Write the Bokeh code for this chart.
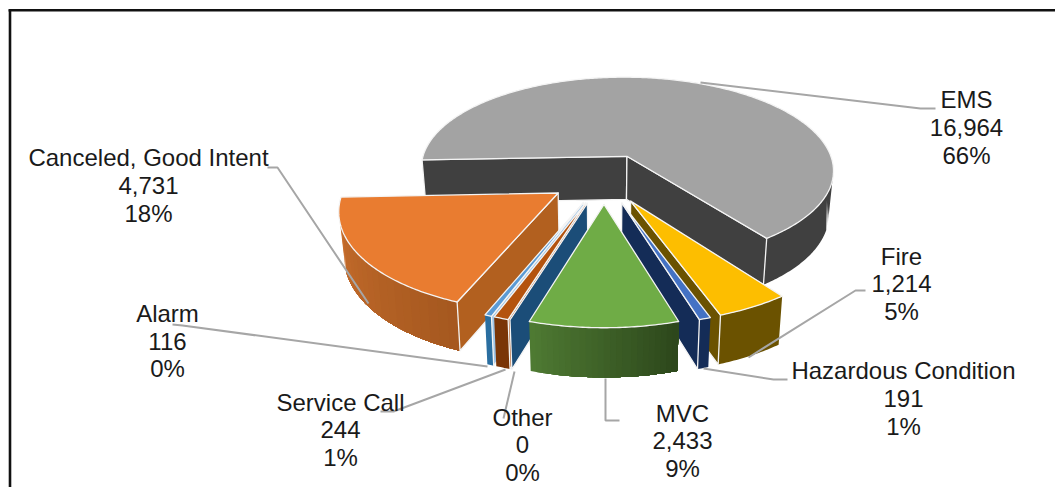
import math
from bokeh.plotting import figure
from bokeh.models import ColumnDataSource
from bokeh.core.properties import value
from bokeh.embed import file_html
from bokeh.resources import INLINE

# ---- data, clockwise from the first slice ----
categories = ["EMS", "Fire", "Hazardous Condition", "MVC", "Other", "Service Call", "Alarm", "Canceled, Good Intent"]
counts = [16964, 1214, 191, 2433, 0, 244, 116, 4731]
percents = [66, 5, 1, 9, 0, 1, 0, 18]

# ---- styles ----
TOP = ["#A3A3A3", "#FDBE00", "#4472C4", "#6FAC46", "#255E91", "#B4530E", "#5B9BD5", "#E97C30"]
WALL = ["#404040", "#6B5200", "#142C57", "#2F4A1D", "#1B4D78", "#A84A0C", "#9DC3E6", "#B2601F"]
SIDE_L = ["#404040", "#6B5200", "#142C57", "#4F7B33", "#1F4E79", "#7A3507", "#2A6EA0", "#CB702E"]
SIDE_R = ["#404040", "#6B5200", "#142C57", "#2C461B", "#1F4E79", "#7A3507", "#2A6EA0", "#A5581F"]
EDGE = "#F4F4F4"

# ---- layout: projection of the exploded pie and the label positions ----
W, H = 1055, 487
X0, Y0, A, B, K, EXPLODE = 603.5, 177.7, 211.0, 96.7, 0.147, 0.26
FIRST_ANGLE = -92.3
DRAW_ORDER = [0, 7, 1, 6, 5, 4, 2, 3]
LABEL_POS = {
    "EMS": (966, [99, 127, 155]),
    "Fire": (901, [256, 283, 311]),
    "Hazardous Condition": (903, [370, 398, 426]),
    "MVC": (682, [413, 440, 468]),
    "Other": (522, [417, 444, 472]),
    "Service Call": (340, [402, 429, 457]),
    "Alarm": (167, [313, 341, 368]),
    "Canceled, Good Intent": (148, [157, 185, 213]),
}
LEADERS = {
    "EMS": [(700, 82), (920, 108), (935, 108)],
    "Fire": [(865, 290), (855, 290), (748, 357)],
    "Hazardous Condition": [(703, 368), (773, 379), (787, 379)],
    "MVC": [(605, 378), (605, 420), (619, 420)],
    "Other": [(503, 418), (514, 371)],
    "Service Call": [(380, 411), (393, 411), (505, 369)],
    "Alarm": [(172, 324), (182, 325), (487, 366)],
    "Canceled, Good Intent": [(267, 167), (277, 167), (368, 303)],
}


def project(wx, wz, down=False):
    s = 1.0 / (1.0 - K * wz)
    x, y = X0 + A * wx * s, Y0 + B * wz * s
    if down:
        x, y = X0 + (x - X0) * 0.98, y + 44.0 * s ** 0.6
    return x, y


def mix(c1, c2, t):
    a = [int(c1[i:i + 2], 16) for i in (1, 3, 5)]
    b = [int(c2[i:i + 2], 16) for i in (1, 3, 5)]
    return "#%02X%02X%02X" % tuple(round(u + (v - u) * t) for u, v in zip(a, b))


total = sum(counts)
spans = [c / total * 360.0 for c in counts]
starts = []
a0 = FIRST_ANGLE
for sp in spans:
    starts.append(a0)
    a0 += sp

xs, ys, fills, lines, widths = [], [], [], [], []


def face(pts, fill, line, w):
    xs.append([p[0] for p in pts])
    ys.append([p[1] for p in pts])
    fills.append(fill)
    lines.append(line)
    widths.append(w)


for i in DRAW_ORDER:
    t0 = starts[i]
    t1 = t0 + spans[i]
    mid = math.radians((t0 + t1) / 2)
    ox, oz = EXPLODE * math.sin(mid), EXPLODE * math.cos(mid) * -1
    n = max(2, int(spans[i] * 1.5))
    angles = [t0 + (t1 - t0) * j / n for j in range(n + 1)]
    rim = [(ox + math.sin(math.radians(a)), oz - math.cos(math.radians(a))) for a in angles]

    # longest unbroken run of the rim that faces the viewer
    runs, cur = [], []
    for j in range(n + 1):
        if -math.cos(math.radians(angles[j])) > 0:
            cur.append(rim[j])
        elif cur:
            runs.append(cur)
            cur = []
    if cur:
        runs.append(cur)
    arc = max(runs, key=len) if runs else []

    # outer side: painted left to right, each piece running on under the next
    if len(arc) > 1 and spans[i] > 0:
        arc = sorted(arc, key=lambda q: project(*q)[0])
        steps = 24 if SIDE_L[i] != SIDE_R[i] else 1
        for s_i in range(steps):
            k0 = int(len(arc) * s_i / steps)
            part = arc[k0:]
            if len(part) < 2:
                continue
            c = mix(SIDE_L[i], SIDE_R[i], (s_i + 0.5) / steps)
            poly = [project(*q) for q in part] + [project(*q, down=True) for q in reversed(part)]
            face(poly, c, None, 0)

    # cut faces turned to the viewer
    for ang, sign in ((t0, -1.0), (t1, 1.0)):
        r = math.radians(ang)
        nx, nz = sign * math.cos(r), sign * math.sin(r)
        if (-ox) * nx + (1.0 / K - oz) * nz > 0:
            tip = (ox + math.sin(r), oz - math.cos(r))
            face([project(ox, oz), project(*tip), project(*tip, down=True), project(ox, oz, down=True)],
                 WALL[i], EDGE, 1.3)

    # top face
    if spans[i] > 0:
        face([project(ox, oz)] + [project(*q) for q in rim], TOP[i], EDGE, 1.3)

p = figure(width=W, height=H, x_range=(0, W), y_range=(H, 0), output_backend="svg",
           toolbar_location=None, min_border=0, outline_line_color=None, background_fill_color="white",
           border_fill_color="white")
p.axis.visible = False
p.grid.visible = False

p.patches("xs", "ys", source=ColumnDataSource(dict(xs=xs, ys=ys, fill=fills, line=lines, w=widths)),
          fill_color="fill", line_color="line", line_width="w", line_join="round")

# chart frame (the reference is cut off at right and bottom)
p.line([9.5, 9.5], [H, 9.7], line_color="#111111", line_width=2.6)
p.line([8, W], [9.7, 9.7], line_color="#111111", line_width=2.6)

for name in categories:
    pts = LEADERS[name]
    p.line([q[0] for q in pts], [q[1] for q in pts], line_color="#A6A6A6", line_width=2)

for name, cnt, pct in zip(categories, counts, percents):
    cx, rows = LABEL_POS[name]
    for txt, yy in zip([name, f"{cnt:,}", f"{pct}%"], rows):
        p.text([cx], [yy], text=[txt], text_font=value("Liberation Sans"), text_font_size="24px",
               text_color="#1A1A1A", text_align="center", text_baseline="middle")

open("out.html", "w").write(file_html(p, INLINE))
